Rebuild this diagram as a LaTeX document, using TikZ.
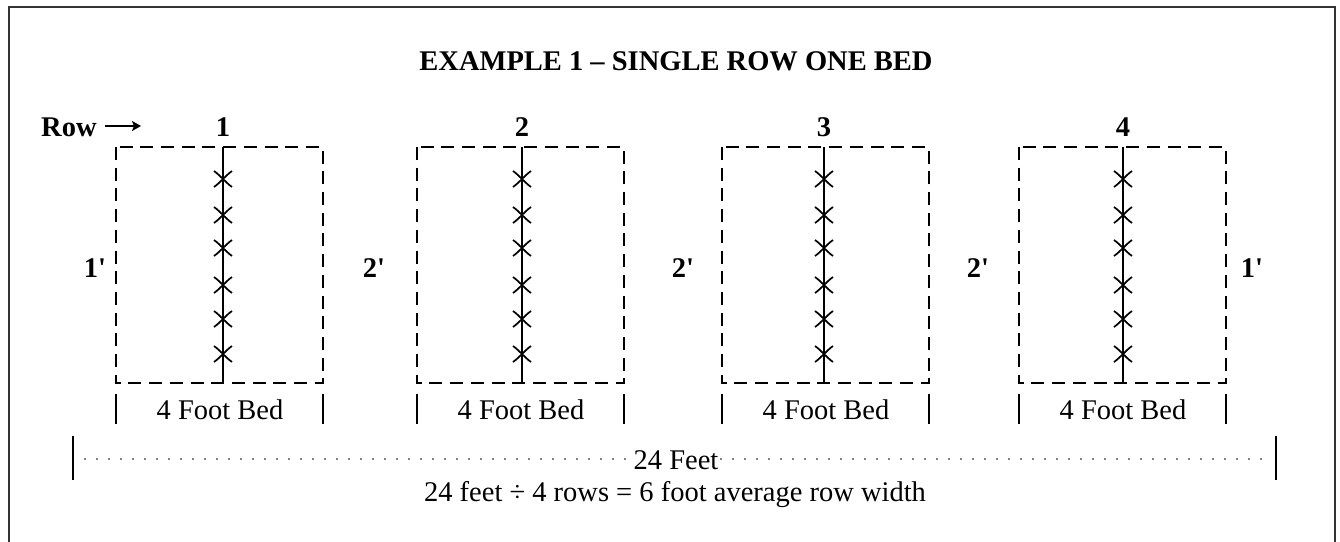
\documentclass[tikz,border=0pt]{standalone}
\usepackage{fontspec}
\setmainfont{Liberation Serif}
\usetikzlibrary{arrows.meta}
\begin{document}
\begin{tikzpicture}[x=1pt,y=-1pt,
  lbl/.style={inner sep=0pt, font=\fontsize{28.5}{30}\selectfont},
  blbl/.style={inner sep=0pt, font=\fontsize{28.5}{30}\selectfont\bfseries},
  bedbox/.style={line width=1.8pt, dash pattern=on 13pt off 7.7pt},
  rowline/.style={line width=1.8pt},
  tickline/.style={line width=1.8pt},
  dotline/.style={line width=1.7pt, line cap=round, dash pattern=on 0pt off 12pt},
  xmark/.style={line width=1.7pt},
  rowarrow/.style={line width=1.8pt, -{Stealth[length=9pt,width=10pt,inset=2pt]}}
]
\useasboundingbox (0,0) rectangle (1340,541);
\begin{scope}
  \clip (0,0) rectangle (1340,541);
  \draw[line width=2pt, draw=black!80] (9,7) rectangle (1335,600);
\end{scope}

% title
\node[blbl, anchor=base] (title) at (676,70) {EXAMPLE 1 – SINGLE ROW ONE BED};
\node[blbl, anchor=base west] (rowlbl) at (41,136) {Row};
\coordinate (arrA) at (105,126);
\coordinate (arrB) at (141,126);
\draw[rowarrow] (arrA) -- (arrB);

% beds
\foreach \i/\xl/\xc in {1/116/223, 2/417/522, 3/722/824, 4/1019/1123} {
  \pgfmathsetmacro{\xr}{\xl+207}
  \draw[bedbox] (\xl,147) rectangle (\xr,383);
  \coordinate (top\i) at (\xc,147);
  \coordinate (bot\i) at (\xc,383);
  \draw[rowline] (top\i) -- (bot\i);
  \node[blbl, anchor=base] (num\i) at (\xc,136) {\i};
  \foreach \yy in {179,215,248,285,319,354} {
    \draw[xmark] (\xc-9,\yy-8) .. controls (\xc-2,\yy-3) and (\xc+2,\yy+3) .. (\xc+9,\yy+8);
    \draw[xmark] (\xc-9,\yy+8) .. controls (\xc-2,\yy+3) and (\xc+2,\yy-3) .. (\xc+9,\yy-8);
  }
  \draw[tickline] (\xl,394) -- (\xl,424);
  \draw[tickline] (\xr,394) -- (\xr,424);
  \node[lbl, anchor=base] (bed\i) at (\xl+104,419) {4 Foot Bed};
}

% side spacing labels
\node[blbl, anchor=base] (s1) at (95,277) {1\textquotesingle};
\node[blbl, anchor=base] (s2) at (374,277) {2\textquotesingle};
\node[blbl, anchor=base] (s3) at (683,277) {2\textquotesingle};
\node[blbl, anchor=base] (s4) at (978,277) {2\textquotesingle};
\node[blbl, anchor=base] (s5) at (1252,277) {1\textquotesingle};

% total width
\coordinate (la) at (73,436);
\coordinate (lb) at (73,480);
\coordinate (ra) at (1276,436);
\coordinate (rb) at (1276,480);
\draw[tickline] (la) -- (lb);
\draw[tickline] (ra) -- (rb);
\coordinate (dl) at (85,459);
\coordinate (dr) at (1268,459);
\draw[dotline] (dl) -- (dr);
\node[lbl, anchor=base, fill=white, inner xsep=2pt] (tot) at (676,469) {24 Feet};
\node[lbl, anchor=base] (calc) at (675,501) {24 feet ÷ 4 rows = 6 foot average row width};
\end{tikzpicture}
\end{document}
